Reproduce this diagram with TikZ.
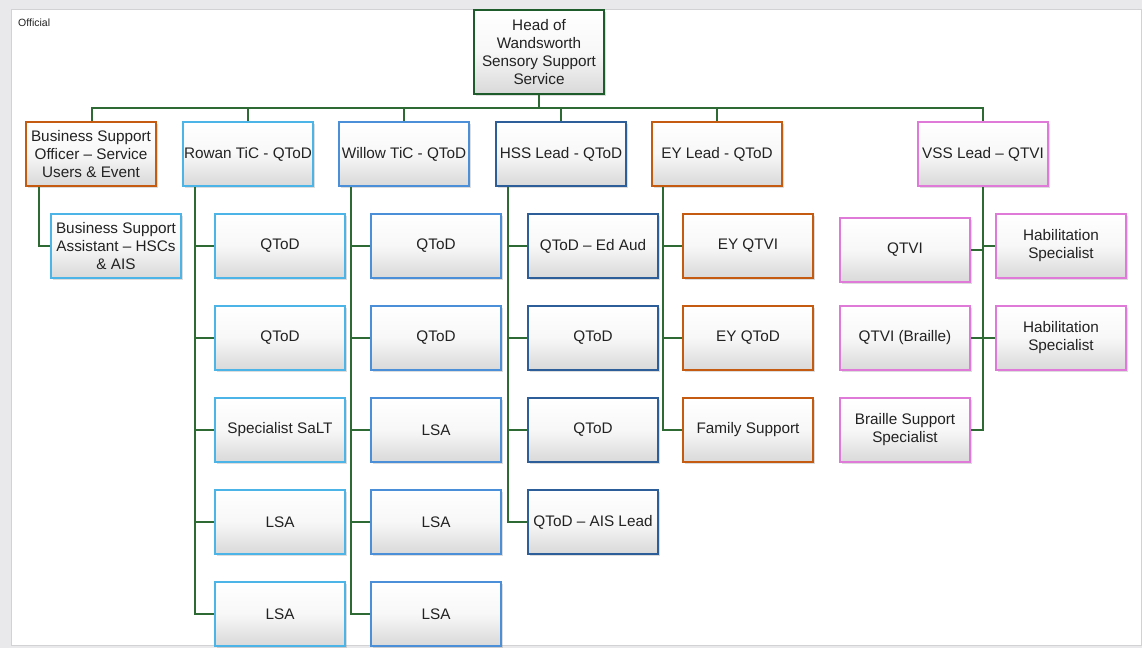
\documentclass[tikz,border=0pt]{standalone}
\usepackage{fontspec}
\setmainfont{Liberation Sans}
\usetikzlibrary{shadows}
\definecolor{lnk}{HTML}{2E6B34}
\definecolor{borg}{HTML}{C55A11}
\definecolor{lblue}{HTML}{4CB4E6}
\definecolor{mblue}{HTML}{4A8FD8}
\definecolor{dblue}{HTML}{2D5E99}
\definecolor{pinkb}{HTML}{E07AD8}
\definecolor{headg}{HTML}{1F5C2B}
\definecolor{pagebg}{HTML}{E9E9EC}
\definecolor{pageln}{HTML}{D2D2D4}
\definecolor{txt}{HTML}{222222}
\begin{document}
\begin{tikzpicture}[x=1pt,y=-1pt,
  box/.style={rectangle, minimum width=130pt, minimum height=64pt, inner sep=0pt,
    align=center, text=txt, font=\fontsize{15.3}{18}\selectfont, line width=2pt,
    top color=white, bottom color=black!15, middle color=white!97!black,
    drop shadow={shadow xshift=1.5pt, shadow yshift=-2pt, opacity=.22, fill=black!60}},
  orgbox/.style={box, draw=borg},
  lbbox/.style={box, draw=lblue},
  mbbox/.style={box, draw=mblue},
  dbbox/.style={box, draw=dblue},
  pkbox/.style={box, draw=pinkb},
  link/.style={draw=lnk, line width=2pt}]
% page
\fill[pagebg] (0,0) rectangle (1142,648);
\draw[pageln, fill=white, line width=1pt] (11.5,9.5) rectangle (1141,645);
\node[anchor=west, inner sep=0pt, font=\fontsize{10.5}{12}\selectfont, text=txt] (official) at (18,23) {Official};

% head
\node[box, draw=headg, minimum height=84pt] (head) at (539,52)
  {Head of\\Wandsworth\\Sensory Support\\Service};
\coordinate (bus) at (539,108);

% top row
\node[orgbox] (bso) at (91,154) {Business Support\\Officer – Service\\Users \& Event};
\node[lbbox] (rowan) at (248,154) {Rowan TiC - QToD};
\node[mbbox] (willow) at (404,154) {Willow TiC - QToD};
\node[dbbox] (hss) at (561,154) {HSS Lead - QToD};
\node[orgbox] (ey) at (717,154) {EY Lead - QToD};
\node[pkbox] (vss) at (983,154) {VSS Lead – QTVI};

% business support assistant
\node[lbbox] (bsa) at (116,246) {Business Support\\Assistant – HSCs\\\& AIS};

% rowan children
\node[lbbox] (r1) at (280,246) {QToD};
\node[lbbox] (r2) at (280,338) {QToD};
\node[lbbox] (r3) at (280,430) {Specialist SaLT};
\node[lbbox] (r4) at (280,522) {LSA};
\node[lbbox] (r5) at (280,614) {LSA};

% willow children
\node[mbbox] (w1) at (436,246) {QToD};
\node[mbbox] (w2) at (436,338) {QToD};
\node[mbbox] (w3) at (436,430) {LSA};
\node[mbbox] (w4) at (436,522) {LSA};
\node[mbbox] (w5) at (436,614) {LSA};

% hss children
\node[dbbox] (h1) at (593,246) {QToD – Ed Aud};
\node[dbbox] (h2) at (593,338) {QToD};
\node[dbbox] (h3) at (593,430) {QToD};
\node[dbbox] (h4) at (593,522) {QToD – AIS Lead};

% ey children
\node[orgbox] (e1) at (748,246) {EY QTVI};
\node[orgbox] (e2) at (748,338) {EY QToD};
\node[orgbox] (e3) at (748,430) {Family Support};

% vss children
\node[pkbox] (v1) at (905,250) {QTVI};
\node[pkbox] (v2) at (905,338) {QTVI (Braille)};
\node[pkbox] (v3) at (905,430) {Braille Support\\Specialist};
\node[pkbox] (hab1) at (1061,246) {Habilitation\\Specialist};
\node[pkbox] (hab2) at (1061,338) {Habilitation\\Specialist};

% connectors
\path[link] (head.south) -- (bus);
\path[link] (bus) -| ([xshift=1pt]bso.north);
\path[link] (bus) -| (rowan.north);
\path[link] (bus) -| (willow.north);
\path[link] (bus) -| (hss.north);
\path[link] (bus) -| (ey.north);
\path[link] (bus) -| (vss.north);

\path[link] ([xshift=14pt]bso.south west) |- (bsa.west);

\foreach \c in {r1,r2,r3,r4,r5}
  \path[link] ([xshift=13pt]rowan.south west) |- (\c.west);
\foreach \c in {w1,w2,w3,w4,w5}
  \path[link] ([xshift=13pt]willow.south west) |- (\c.west);
\foreach \c in {h1,h2,h3,h4}
  \path[link] ([xshift=13pt]hss.south west) |- (\c.west);
\foreach \c in {e1,e2,e3}
  \path[link] ([xshift=12pt]ey.south west) |- (\c.west);

\path[link] (vss.south) |- (v1.east);
\path[link] (vss.south) |- (v2.east);
\path[link] (vss.south) |- (v3.east);
\path[link] (vss.south) |- (hab1.west);
\path[link] (vss.south) |- (hab2.west);
\end{tikzpicture}
\end{document}
